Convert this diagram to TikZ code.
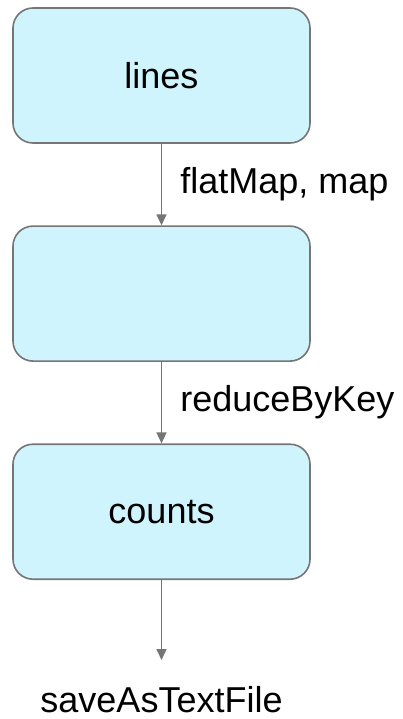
\documentclass[tikz,border=0pt]{standalone}
\usepackage{fontspec}
\setmainfont{Liberation Sans}
\usepackage{xcolor}
\definecolor{boxfill}{RGB}{207, 244, 253}
\definecolor{edgegray}{RGB}{117, 117, 117}
\usepackage{tikz}
\usetikzlibrary{arrows.meta, positioning}
\tikzstyle{stage} = [rectangle, draw=edgegray, line width=1.6pt, fill=boxfill, rounded corners=20pt, minimum width=297pt, minimum height=135pt, font=\fontsize{36}{42}\selectfont]
\tikzstyle{arrow} = [line width=1.6pt, draw=edgegray, -{Triangle[length=11pt,width=10pt]}]
\tikzstyle{oplabel} = [font=\fontsize{36}{42}\selectfont, inner sep=0pt]

\begin{document}
\begin{tikzpicture}[node distance=81.5pt]
    \useasboundingbox (0,0) rectangle (402pt,-719pt);

    \node[stage] (lines) at (161.5pt,-75.5pt) {lines};
    \node[stage, below=of lines] (pairs) {};
    \node[stage, below=of pairs] (counts) {counts};
    \coordinate[below=80pt of counts] (sink);
    \node[oplabel, below=26pt of sink] (save) {saveAsTextFile};

    \draw[arrow] (lines) -- node[oplabel, anchor=west, xshift=18pt] {flatMap, map} (pairs);
    \draw[arrow] (pairs) -- node[oplabel, anchor=west, xshift=18pt] {reduceByKey} (counts);
    \draw[arrow] (counts) -- (sink);
\end{tikzpicture}
\end{document}
